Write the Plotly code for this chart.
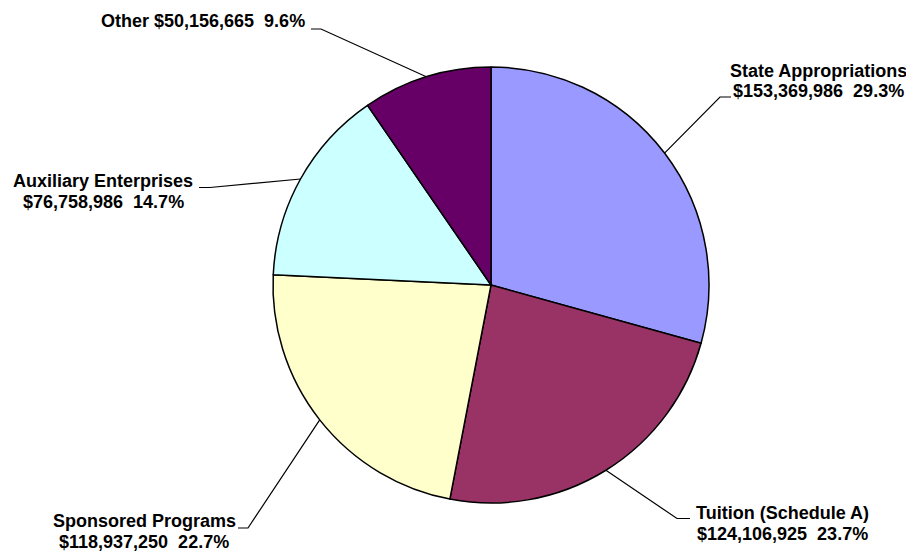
import math
import plotly.graph_objects as go

# ---- data ----
categories = ["State Appropriations", "Tuition (Schedule A)", "Sponsored Programs",
              "Auxiliary Enterprises", "Other"]
values = [153369986, 124106925, 118937250, 76758986, 50156665]
colors = ["#9999FF", "#993366", "#FFFFCC", "#CCFFFF", "#660066"]

# ---- layout (pixel geometry, in screen pixels) ----
OFF = 8                      # page body margin
W, H = 914 - OFF, 555 - OFF  # figure size
CX, CY, R = 491, 285, 218
# elbow point, end of short horizontal tick, label center x, line baselines
label_layout = [
    dict(elbow=(720, 97), end=(731, 97), cx=818, base=[77.5, 97.5]),
    dict(elbow=(677, 518.5), end=(690, 518.5), cx=782, base=[519, 540]),
    dict(elbow=(248, 528), end=(238, 528), cx=144, base=[527.5, 548]),
    dict(elbow=(210, 187.5), end=(199, 187.5), cx=103, base=[187, 208]),
    dict(elbow=(321, 29), end=(311, 29), cx=203, base=[27.5]),
]


def px(x):
    return (x - OFF) / W


def py(y):
    return 1 - (y - OFF) / H


total = sum(values)
NB = "\u00a0"

fig = go.Figure(go.Pie(
    labels=categories,
    values=values,
    sort=False,
    direction="clockwise",
    rotation=0,
    marker=dict(colors=colors, line=dict(color="black", width=1.5)),
    textinfo="none",
    hoverinfo="label+value+percent",
    showlegend=False,
    domain=dict(x=[px(CX - R), px(CX + R)], y=[py(CY + R), py(CY - R)]),
))

shapes = []
annotations = []
cum = 0.0
FONT = dict(family="Liberation Sans, Arial, sans-serif", size=18, color="black")
for name, val, lay in zip(categories, values, label_layout):
    frac = val / total
    mid = (cum + frac / 2) * 2 * math.pi
    cum += frac
    ex = CX + R * math.sin(mid)
    ey = CY - R * math.cos(mid)
    (bx, by), (tx, ty) = lay["elbow"], lay["end"]
    shapes.append(dict(
        type="path", xref="paper", yref="paper",
        path=f"M {px(ex)},{py(ey)} L {px(bx)},{py(by)} L {px(tx)},{py(ty)}",
        line=dict(color="black", width=1.2),
    ))
    amount = f"${val:,}{NB}{NB}{frac*100:.1f}%"
    if len(lay["base"]) == 2:
        lines = [name, amount]
    else:
        lines = [f"{name} {amount}"]
    for text, base in zip(lines, lay["base"]):
        annotations.append(dict(
            text=f"<b>{text}</b>", x=px(lay["cx"]), y=py(base - 6.2),
            xref="paper", yref="paper", xanchor="center", yanchor="middle",
            showarrow=False, font=FONT,
        ))

fig.update_layout(
    width=W, height=H,
    margin=dict(l=0, r=0, t=0, b=0),
    paper_bgcolor="white", plot_bgcolor="white",
    shapes=shapes, annotations=annotations,
)

fig.write_html("out.html")
